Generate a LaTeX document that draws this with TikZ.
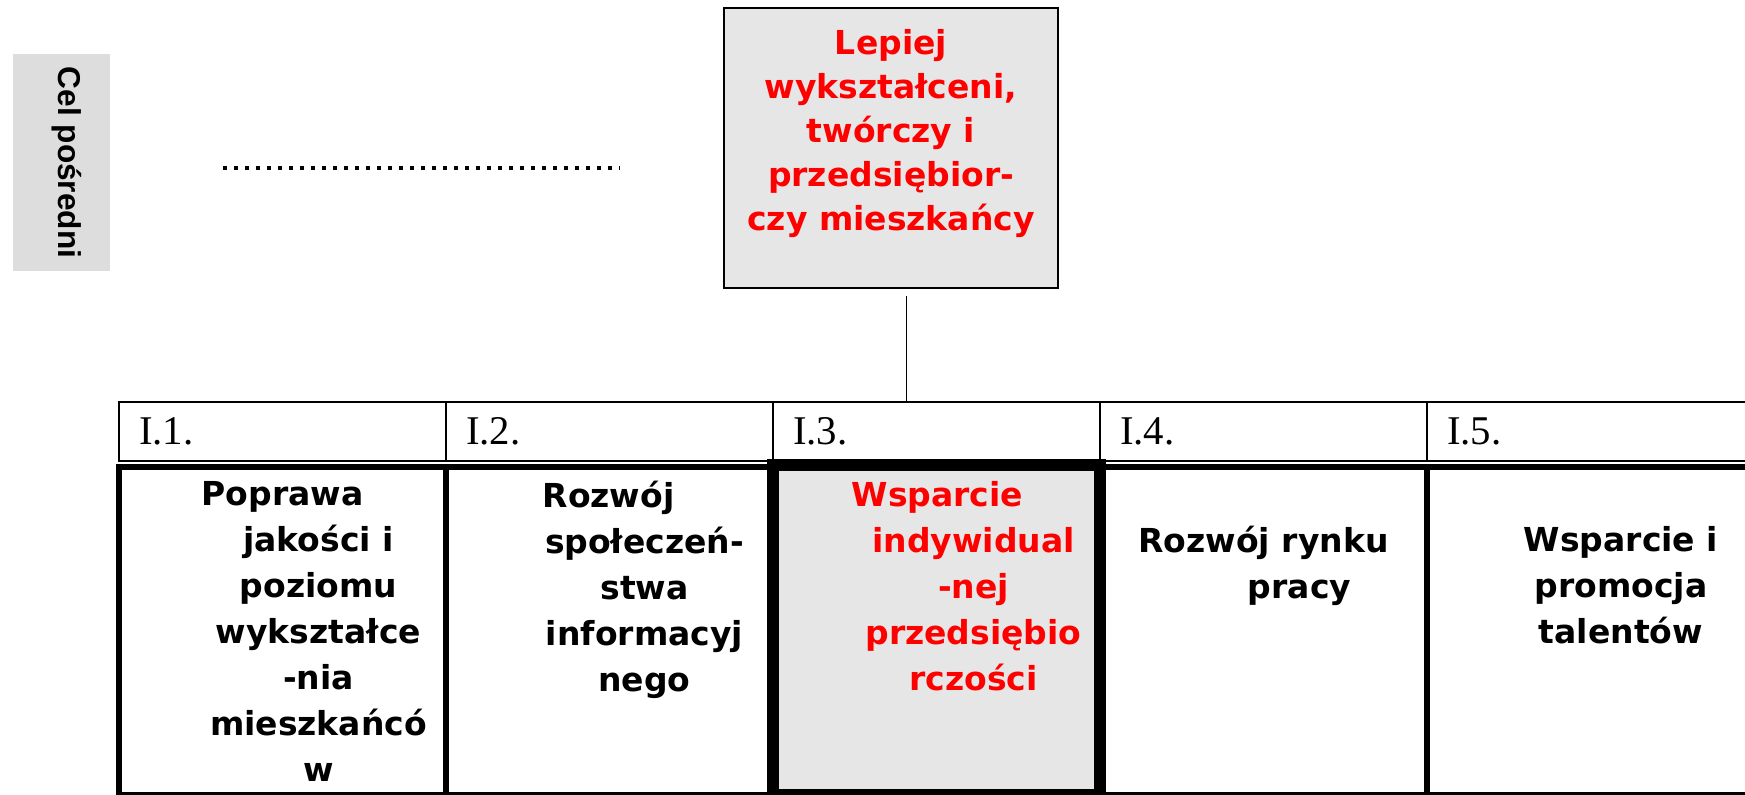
\documentclass[tikz,border=0pt]{standalone}
\usepackage{fontspec}
\setmainfont{DejaVu Sans}
\newfontfamily\headfont{Liberation Serif}
\newfontfamily\stagefont{Liberation Sans}
\usepackage{tikz}
\usetikzlibrary{positioning}
\definecolor{boxgray}{HTML}{E6E6E6}
\definecolor{stagegray}{HTML}{DDDDDD}
\definecolor{goalred}{HTML}{FF0000}
\newcommand{\firstpad}{\hspace*{36pt}}
\tikzstyle{stagebox} = [rectangle, fill=stagegray, minimum width=108.5pt, minimum height=48.5pt, inner sep=0pt, text depth=8.3pt, font=\stagefont\bfseries\fontsize{15.8}{18}\selectfont]
\tikzstyle{goalbox} = [rectangle, draw=black, line width=0.85pt, fill=boxgray, minimum width=167pt, minimum height=140pt]
\tikzstyle{goaltext} = [align=center, inner sep=0pt, text=goalred, font=\bfseries\fontsize{16.5}{22}\selectfont, execute at begin node=\strut]
\tikzstyle{headcell} = [rectangle, draw=black, line width=0.6pt, minimum width=163.5pt, minimum height=29.5pt, text width=143.5pt, inner xsep=10pt, inner ysep=0pt, align=left, outer sep=0pt, font=\headfont\fontsize{20.4}{24}\selectfont]
\tikzstyle{cellbox} = [rectangle, draw=black, line width=3pt, minimum width=163.5pt, minimum height=164pt, outer sep=0pt, inner sep=0pt]
\tikzstyle{keybox} = [cellbox, line width=6pt, fill=boxgray, minimum height=164.75pt]
\tikzstyle{celltext} = [align=center, inner sep=0pt, font=\bfseries\fontsize{16.5}{23}\selectfont, execute at begin node=\strut]
\tikzstyle{dots} = [line width=2pt, dash pattern=on 2pt off 3.5pt]
\tikzstyle{link} = [line width=0.5pt]

\begin{document}
\begin{tikzpicture}[x=0.5pt, y=-0.5pt]
\useasboundingbox (0,0) rectangle (1745,795);
\node (stage) [stagebox, rotate=-90] at (61.5,162.5) {Cel pośredni};
\draw [dots] (223,168) -- (620,168);
\node (goal) [goalbox] at (891,148) {};
\node (goaltxt) [goaltext, below=11.1pt of goal.north] {Lepiej\\wykształceni,\\twórczy i\\przedsiębior-\\czy mieszkańcy};

\node (h1) [headcell] at (282.5,431.5) {I.1.};
\node (h2) [headcell, right=0pt of h1] {I.2.};
\node (h3) [headcell, right=0pt of h2] {I.3.};
\node (h4) [headcell, right=0pt of h3] {I.4.};
\node (h5) [headcell, right=0pt of h4] {I.5.};

\node (b1) [cellbox, below=3pt of h1] {};
\node (b2) [cellbox, below=3pt of h2] {};
\node (b4) [cellbox, below=3pt of h4] {};
\node (b5) [cellbox, below=3pt of h5] {};
\node (b3) [keybox, below=2.25pt of h3] {};

\node (t1) [celltext, below=6.9pt of b1.north, xshift=18pt] {Poprawa\firstpad\\jakości i\\poziomu\\wykształce\\-nia\\mieszkańcó\\w};
\node (t2) [celltext, below=6.9pt of b2.north, xshift=17.5pt] {Rozwój\firstpad\\społeczeń-\\stwa\\informacyj\\nego};
\node (t3) [celltext, text=goalred, below=7.65pt of b3.north, xshift=18.5pt] {Wsparcie\firstpad\\indywidual\\-nej\\przedsiębio\\rczości};
\node (t4) [celltext, below=29.4pt of b4.north, xshift=18pt] {Rozwój rynku\firstpad\\pracy};
\node (t5) [celltext, below=29.4pt of b5.north, xshift=15.25pt] {Wsparcie i\\promocja\\talentów};

\coordinate (joint) at (906,402);
\draw [link] ([yshift=-3.5pt]joint |- goal.south) -- (joint);
\end{tikzpicture}
\end{document}
